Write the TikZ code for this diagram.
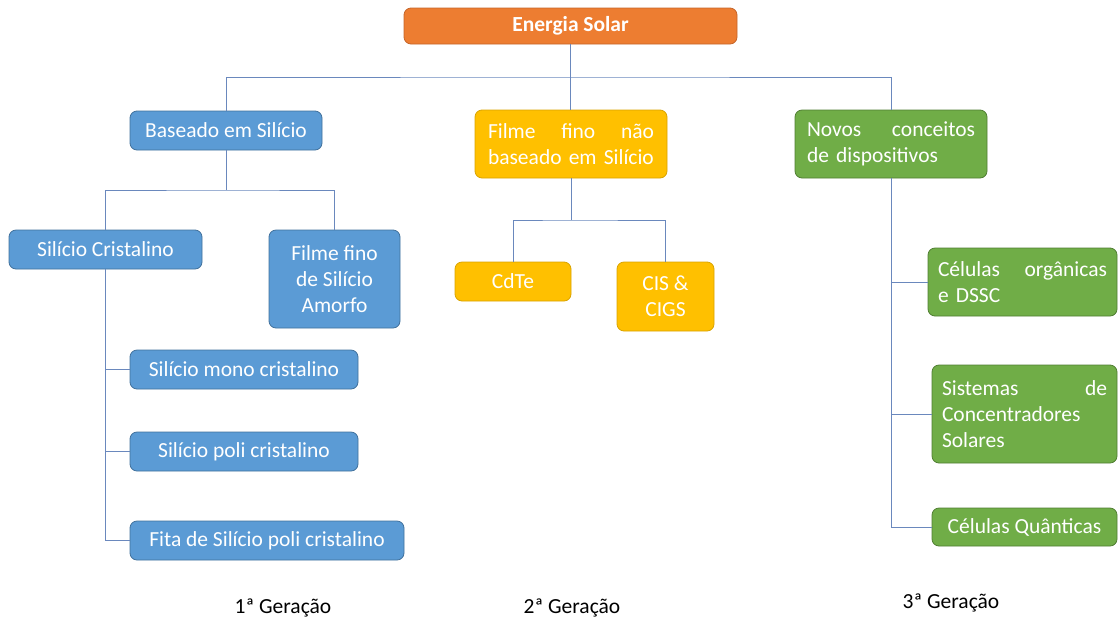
\documentclass[tikz,border=0pt]{standalone}
\usepackage{fontspec}
\setmainfont{Carlito}
\definecolor{cOr}{HTML}{ED7D31}
\definecolor{cOrB}{HTML}{C5652A}
\definecolor{cBl}{HTML}{5B9BD5}
\definecolor{cBlB}{HTML}{41719C}
\definecolor{cYe}{HTML}{FFC000}
\definecolor{cYeB}{HTML}{D9A300}
\definecolor{cGr}{HTML}{70AD47}
\definecolor{cGrB}{HTML}{507E32}
\definecolor{cLn}{HTML}{6A88BD}
\tikzset{
  box/.style={rounded corners=7pt, text=white, inner sep=0pt, line width=0.8pt,
    font=\fontsize{21.5}{26}\selectfont, align=center, anchor=center},
  bluebox/.style={box, fill=cBl, draw=cBlB},
  yelbox/.style={box, fill=cYe, draw=cYeB},
  grnbox/.style={box, fill=cGr, draw=cGrB},
  conn/.style={draw=cLn, line width=0.9pt},
  genlabel/.style={font=\fontsize{21.5}{24}\selectfont, text=black}
}
\begin{document}
\begin{tikzpicture}[x=1pt,y=-1pt]
\useasboundingbox (0,0) rectangle (1119,622);
% nodes
\node[box, fill=cOr, draw=cOrB, minimum width=333pt, minimum height=36pt, font=\fontsize{21.5}{24}\selectfont\bfseries] (sol) at (570.5,26) {Energia Solar};
\node[bluebox, minimum width=192pt, minimum height=39pt] (bas) at (226,130.5) {Baseado em Silício};
\node[yelbox, minimum width=192pt, minimum height=68pt, text width=166pt, align=left] (fil) at (571,144) {Filme\hfill fino\hfill não\\baseado em Silício};
\node[grnbox, minimum width=192pt, minimum height=68pt, text width=168pt, align=left] (nov) at (891,144) {Novos\hfill conceitos\\de dispositivos};
\node[bluebox, minimum width=193pt, minimum height=39pt] (cri) at (105.5,249.5) {Silício Cristalino};
\node[bluebox, minimum width=131pt, minimum height=98pt] (amo) at (334.5,279) {Filme fino\\de Silício\\Amorfo};
\node[bluebox, minimum width=228pt, minimum height=39pt] (mono) at (244,369.5) {Silício mono cristalino};
\node[bluebox, minimum width=228pt, minimum height=39pt] (poli) at (244,451.5) {Silício poli cristalino};
\node[bluebox, minimum width=274pt, minimum height=39pt] (fita) at (267,540.5) {Fita de Silício poli cristalino};
\node[yelbox, minimum width=116pt, minimum height=39pt] (cdte) at (513,281.5) {CdTe};
\node[yelbox, minimum width=97pt, minimum height=69pt] (cis) at (665.5,296.5) {CIS \&\\CIGS};
\node[grnbox, minimum width=189pt, minimum height=68pt, text width=169pt, align=left] (org) at (1022.5,282) {Células\hfill orgânicas\\e DSSC};
\node[grnbox, minimum width=185pt, minimum height=98pt, text width=165pt, align=left] (sis) at (1024.5,414) {Sistemas\hfill de\\Concentradores\\Solares};
\node[grnbox, minimum width=185pt, minimum height=38pt] (qua) at (1024.5,527) {Células Quânticas};
% labels
\node[genlabel] (g1) at (283,608) {1ª Geração};
\node[genlabel] (g2) at (572,608) {2ª Geração};
\node[genlabel] (g3) at (951,603) {3ª Geração};
% connectors
\coordinate (j1) at (571,77);
\coordinate (j2) at (226,190);
\coordinate (j3) at (571,220);
\draw[conn] (sol.south) -- (sol.south |- fil.north);
\draw[conn] (bas.north) |- (j1) -| (nov.north);
\draw[conn] (bas.south) -- (j2);
\draw[conn] (cri.north) |- (j2) -| (amo.north);
\draw[conn] (cri.south) |- (fita.west);
\draw[conn] (cri.south |- mono.west) -- (mono.west);
\draw[conn] (cri.south |- poli.west) -- (poli.west);
\draw[conn] (fil.south) -- (j3);
\draw[conn] (cdte.north) |- (j3) -| (cis.north);
\draw[conn] (nov.south) |- (qua.west);
\draw[conn] (nov.south |- org.west) -- (org.west);
\draw[conn] (nov.south |- sis.west) -- (sis.west);
\end{tikzpicture}
\end{document}
